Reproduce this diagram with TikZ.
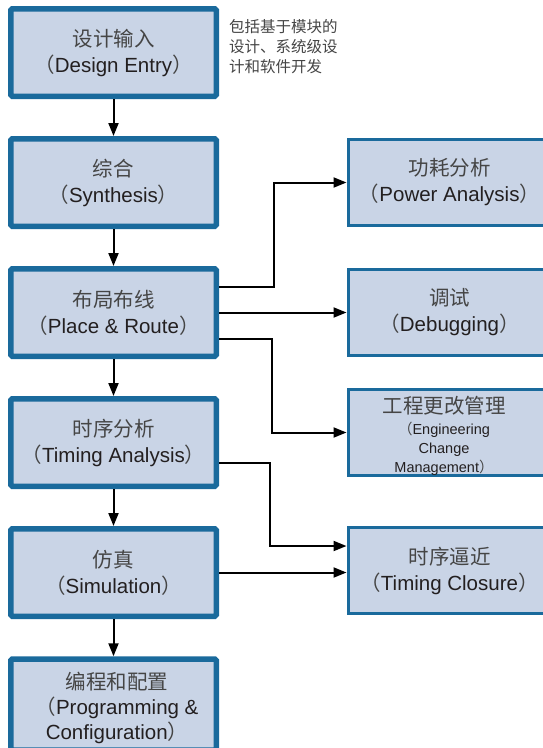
\documentclass[tikz,border=0pt]{standalone}
\usepackage{fontspec}
\setmainfont{Liberation Sans}
\newfontfamily\cjk{Noto Sans CJK SC}
\usetikzlibrary{arrows.meta}
\definecolor{bfill}{HTML}{C9D4E6}
\definecolor{bline}{HTML}{1A6A9C}
\definecolor{txt}{HTML}{231F20}
\definecolor{zhtxt}{HTML}{454545}
\newcommand\zhs[1]{{\cjk\color{zhtxt}#1}}
\newcommand\smallen{\fontsize{14.5}{19}\selectfont}
\tikzset{
  lbox/.style={draw=bline, fill=bfill, line width=5.5pt, rounded corners=1.5pt,
    minimum width=205.5pt, minimum height=87.5pt, align=center, text=txt,
    font=\fontsize{20.5}{26}\selectfont, inner sep=0pt},
  rbox/.style={draw=bline, fill=bfill, line width=3pt,
    minimum width=203pt, minimum height=86pt, align=center, text=txt,
    font=\fontsize{20.5}{26}\selectfont, inner sep=0pt},
  arr/.style={line width=2pt, draw=black, -{Triangle[length=13pt,width=10pt]}},
}
\begin{document}
\begin{tikzpicture}[x=1pt,y=-1pt]
\useasboundingbox (0,0) rectangle (543,748);
% left column
\node[lbox] (de) at (113.5,52.5) {\zhs{设计输入}\\\zhs{（}Design Entry\zhs{）}};
\node[lbox] (sy) at (113.5,182.5) {\zhs{综合}\\\zhs{（}Synthesis\zhs{）}};
\node[lbox] (pr) at (113.5,312.5) {\zhs{布局布线}\\\zhs{（}Place \& Route\zhs{）}};
\node[lbox] (ta) at (113.5,442.5) {\zhs{时序分析}\\\zhs{（}Timing Analysis\zhs{）}};
\node[lbox] (sim) at (113.5,572.5) {\zhs{仿真}\\\zhs{（}Simulation\zhs{）}};
\node[lbox, minimum height=91pt] (pc) at (113.5,704.5) {};
\node[align=center, text=txt, font=\fontsize{20.5}{25}\selectfont, inner sep=0pt] (pct) at (117,708)
  {\zhs{编程和配置}\\\zhs{（}Programming \&\\Configuration\zhs{）}};
% note
\node[anchor=west, align=left, inner sep=0pt, font=\fontsize{15.5}{20}\selectfont] (note) at (229,47)
  {\zhs{包括基于模块的}\\\zhs{设计、系统级设}\\\zhs{计和软件开发}};
% right column
\node[rbox] (pa) at (449.5,182.5) {\zhs{功耗分析}\\\zhs{（}Power Analysis\zhs{）}};
\node[rbox] (db) at (449.5,312.5) {\zhs{调试}\\\zhs{（}Debugging\zhs{）}};
\node[rbox] (ecm) at (449.5,432.5) {};
\node[align=center, text=txt, inner sep=0pt, font=\fontsize{20.5}{19}\selectfont] (ecmt) at (444,436)
  {\zhs{工程更改管理}\\[2pt]
   \smallen\zhs{（}Engineering\\\smallen Change\\\smallen Management\zhs{）}};
\node[rbox] (tc) at (449.5,570.5) {\zhs{时序逼近}\\\zhs{（}Timing Closure\zhs{）}};
% vertical flow
\draw[arr] (de.south) -- (sy.north);
\draw[arr] (sy.south) -- (pr.north);
\draw[arr] (pr.south) -- (ta.north);
\draw[arr] (ta.south) -- (sim.north);
\draw[arr] (sim.south) -- (pc.north);
% branches
\draw[arr] ([yshift=25.5pt]pr.east) -- ++(55,0) |- (pa.west);
\draw[arr] (pr.east) -- (db.west);
\draw[arr] ([yshift=-26.5pt]pr.east) -- ++(53,0) |- (ecm.west);
\draw[arr] ([yshift=-20.5pt]ta.east) -- ++(51,0) |- ([yshift=24.5pt]tc.west);
\draw[arr] (sim.east) -- (sim.east -| tc.west);
\end{tikzpicture}
\end{document}
